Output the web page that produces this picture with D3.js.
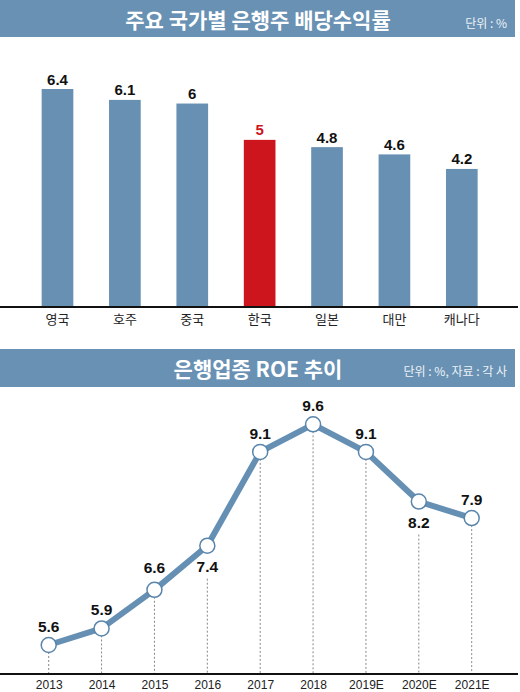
<!DOCTYPE html>
<html>
<head>
<meta charset="utf-8">
<script src="https://cdn.jsdelivr.net/npm/d3@7"></script>
<style>
  body { margin: 0; background: #fff; }
  svg { display: block; }
</style>
</head>
<body>
<div class="chart"></div>
<script>
// bar chart data
var countries = ["영국", "호주", "중국", "한국", "일본", "대만", "캐나다"];
var dividendYield = [6.4, 6.1, 6, 5, 4.8, 4.6, 4.2];

// line chart data
var years = ["2013", "2014", "2015", "2016", "2017", "2018", "2019E", "2020E", "2021E"];
var roe = [5.6, 5.9, 6.6, 7.4, 9.1, 9.6, 9.1, 8.2, 7.9];

var svgWidth = 520;
var svgHeight = 692;

var blue = "#6890b3";
var red = "#cc151d";
var numFont = "'Liberation Sans', Arial, sans-serif";
var korFont = "'Noto Sans CJK KR', sans-serif";

var svg = d3.select(".chart")
    .append("svg")
    .attr("width", svgWidth)
    .attr("height", svgHeight);

// title band helper
function titleBand(y0, y1, title, unit, titleBase, unitBase) {
    svg.append("rect")
        .attr("x", 0).attr("y", y0)
        .attr("width", 515).attr("height", y1 - y0)
        .attr("fill", "#6891b4");
    svg.append("text")
        .attr("x", 258).attr("y", titleBase)
        .attr("text-anchor", "middle")
        .attr("font-family", korFont)
        .attr("font-weight", "bold")
        .attr("font-size", "21px")
        .attr("fill", "#fff")
        .text(title);
    svg.append("text")
        .attr("x", 507).attr("y", unitBase)
        .attr("text-anchor", "end")
        .attr("font-family", korFont)
        .attr("font-size", "12px")
        .attr("fill", "#eef2f6")
        .text(unit);
}

// ---------- bar chart ----------
titleBand(0, 37, "주요 국가별 은행주 배당수익률", "단위 : %", 28, 28);

var barBase = 307;

var xBand = d3.scaleBand()
    .domain(countries)
    .range([23.8, 495.5])
    .paddingInner(0.53)
    .paddingOuter(0.265);

var yBar = d3.scaleLinear()
    .domain([0.4, 6.4])
    .range([barBase, 89]);

var barGroup = svg.append("g");

barGroup.selectAll("rect")
    .data(countries)
    .enter()
    .append("rect")
    .attr("x", d => xBand(d))
    .attr("width", xBand.bandwidth())
    .attr("y", (d, i) => yBar(dividendYield[i]))
    .attr("height", (d, i) => barBase - yBar(dividendYield[i]))
    .attr("fill", d => d === "한국" ? red : blue);

barGroup.selectAll(".bar-value")
    .data(countries)
    .enter()
    .append("text")
    .attr("class", "bar-value")
    .attr("x", d => xBand(d) + xBand.bandwidth() / 2)
    .attr("y", (d, i) => yBar(dividendYield[i]) - 4.5)
    .attr("text-anchor", "middle")
    .attr("font-family", numFont)
    .attr("font-weight", "bold")
    .attr("font-size", "15px")
    .attr("fill", d => d === "한국" ? red : "#111")
    .text((d, i) => dividendYield[i]);

// x axis for bars
var barAxis = svg.append("g")
    .attr("transform", `translate(0, ${barBase})`)
    .call(d3.axisBottom(xBand).tickSize(0).tickPadding(0));
barAxis.select(".domain").remove();
barAxis.append("line")
    .attr("x1", 0).attr("x2", 518)
    .attr("stroke", "#111").attr("stroke-width", 2);
barAxis.selectAll(".tick text")
    .attr("y", 17)
    .attr("dy", 0)
    .attr("font-family", korFont)
    .attr("font-size", "13px")
    .attr("fill", "#222");

// ---------- line chart ----------
titleBand(349, 387, "은행업종 ROE 추이", "단위 : %, 자료 : 각 사", 377, 376);

var lineBase = 674;

var xPoint = d3.scalePoint()
    .domain(years)
    .range([48.7, 471.7]);

var yLine = d3.scaleLinear()
    .domain([5.6, 9.6])
    .range([645, 424.3]);

// which labels sit under their point
var labelBelow = ["2016", "2020E"];

var lineGroup = svg.append("g");

// dotted drop lines
lineGroup.selectAll(".drop")
    .data(years)
    .enter()
    .append("line")
    .attr("class", "drop")
    .attr("x1", d => xPoint(d))
    .attr("x2", d => xPoint(d))
    .attr("y1", (d, i) => yLine(roe[i]) + (labelBelow.includes(d) ? 33 : 7))
    .attr("y2", lineBase)
    .attr("stroke", "#888")
    .attr("stroke-width", 1)
    .attr("stroke-dasharray", "2,2");

// x axis for line chart
var lineAxis = svg.append("g")
    .attr("transform", `translate(0, ${lineBase})`)
    .call(d3.axisBottom(xPoint).tickSize(0).tickPadding(0));
lineAxis.select(".domain").remove();
lineAxis.append("line")
    .attr("x1", 0).attr("x2", 518)
    .attr("stroke", "#111").attr("stroke-width", 2);
lineAxis.selectAll(".tick text")
    .attr("y", 14.5)
    .attr("dy", 0)
    .attr("font-family", numFont)
    .attr("font-size", "12px")
    .attr("fill", "#222");

var line = d3.line()
    .x((d, i) => xPoint(years[i]))
    .y(d => yLine(d));

lineGroup.append("path")
    .datum(roe)
    .attr("d", line)
    .attr("fill", "none")
    .attr("stroke", "#6590b4")
    .attr("stroke-width", 6)
    .attr("stroke-linejoin", "round");

lineGroup.selectAll("circle")
    .data(years)
    .enter()
    .append("circle")
    .attr("cx", d => xPoint(d))
    .attr("cy", (d, i) => yLine(roe[i]))
    .attr("r", 7.5)
    .attr("fill", "#fff")
    .attr("stroke", "#5a85ab")
    .attr("stroke-width", 1.5);

lineGroup.selectAll(".roe-value")
    .data(years)
    .enter()
    .append("text")
    .attr("class", "roe-value")
    .attr("x", d => xPoint(d))
    .attr("y", (d, i) => {
        if (labelBelow.includes(d)) return yLine(roe[i]) + 26.7;
        if (d === "2015") return yLine(roe[i]) - 16.5;
        return yLine(roe[i]) - 13.3;
    })
    .attr("text-anchor", "middle")
    .attr("font-family", numFont)
    .attr("font-weight", "bold")
    .attr("font-size", "15.5px")
    .attr("fill", "#111")
    .text((d, i) => roe[i]);
</script>
</body>
</html>
